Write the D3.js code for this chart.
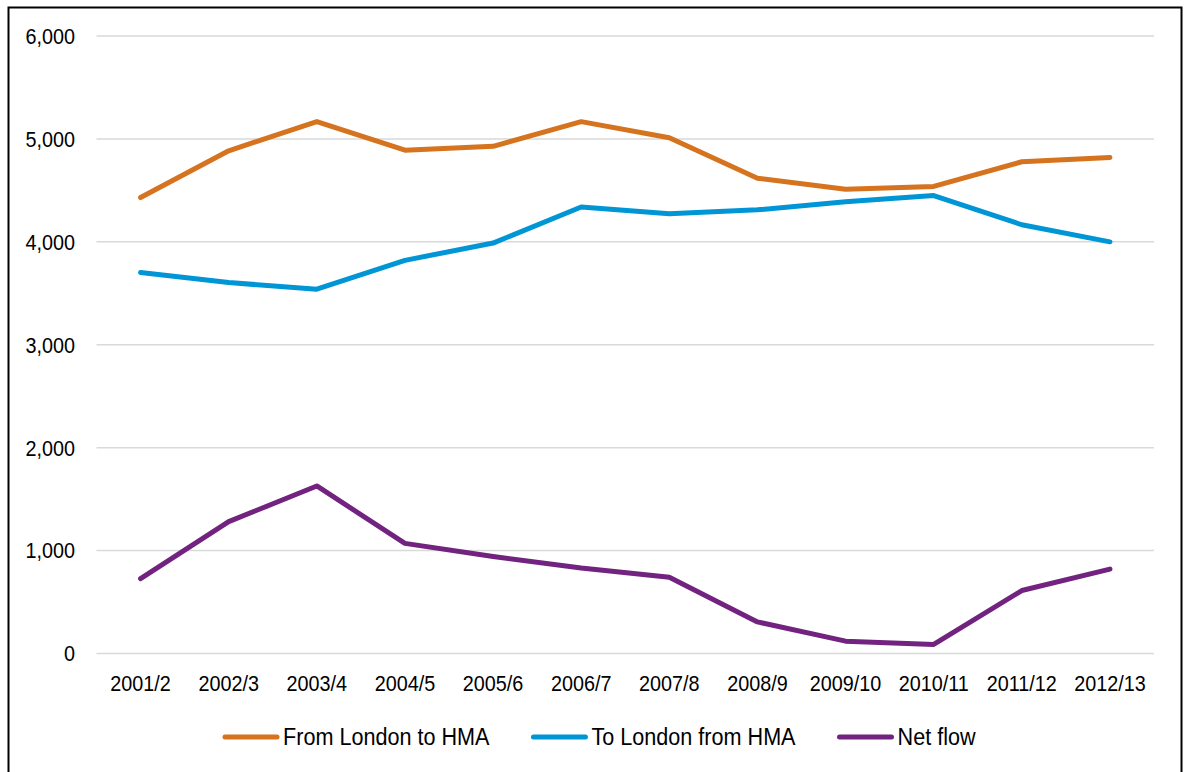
<!DOCTYPE html>
<html>
<head>
<meta charset="utf-8">
<script src="https://cdn.jsdelivr.net/npm/d3@7"></script>
<style>
  html, body { margin: 0; padding: 0; background: #fff; }
  svg { display: block; }
  text { font-family: "Liberation Sans", Arial, sans-serif; fill: #000; }
</style>
</head>
<body>
<svg id="chart" width="1188" height="772"></svg>
<script>
// Migration flows between London and the HMA, by financial year
const years = ["2001/2", "2002/3", "2003/4", "2004/5", "2005/6", "2006/7",
               "2007/8", "2008/9", "2009/10", "2010/11", "2011/12", "2012/13"];
const fromLondon = [4430, 4885, 5168, 4890, 4928, 5168, 5012, 4618, 4510, 4538, 4778, 4820];
const toLondon   = [3702, 3604, 3540, 3820, 3988, 4338, 4272, 4311, 4390, 4450, 4166, 4000];
const netFlow    = [728, 1281, 1628, 1070, 942, 830, 740, 307, 120, 88, 612, 820];
const yTicks = [0, 1000, 2000, 3000, 4000, 5000, 6000];

const seriesNames = ["From London to HMA", "To London from HMA", "Net flow"];
const seriesValues = [fromLondon, toLondon, netFlow];
const seriesColors = ["#d5731f", "#0096d6", "#72237f"];

const svg = d3.select("#chart");
const plot = { left: 96.5, right: 1154, top: 36, bottom: 653.5 };
const condense = 0.9;

// outer frame
svg.append("rect")
  .attr("x", 8.5).attr("y", 7.5)
  .attr("width", 1173).attr("height", 780)
  .attr("fill", "none").attr("stroke", "#000").attr("stroke-width", 2);

const x = d3.scaleBand().domain(years).range([plot.left, plot.right]).padding(0);
const y = d3.scaleLinear().domain([0, 6000]).range([plot.bottom, plot.top]);
const cx = d => x(d) + x.bandwidth() / 2;

// horizontal gridlines
svg.append("g").selectAll("line").data(yTicks).join("line")
  .attr("x1", plot.left).attr("x2", plot.right)
  .attr("y1", d => y(d)).attr("y2", d => y(d))
  .attr("stroke", "#d9d9d9").attr("stroke-width", 1.5);

const fmt = d3.format(",");

// y-axis labels
svg.append("g").selectAll("text").data(yTicks).join("text")
  .attr("transform", d => `translate(75,${y(d)}) scale(${condense},1)`)
  .attr("text-anchor", "end")
  .attr("dominant-baseline", "central")
  .style("font-size", "22px")
  .text(d => fmt(d));

// x-axis labels
svg.append("g").selectAll("text").data(years).join("text")
  .attr("transform", d => `translate(${cx(d)},691) scale(${condense},1)`)
  .attr("text-anchor", "middle")
  .style("font-size", "22px")
  .text(d => d);

// series lines
const line = d3.line().x((d, i) => cx(years[i])).y(d => y(d));
svg.append("g").selectAll("path").data(seriesValues).join("path")
  .attr("d", d => line(d))
  .attr("fill", "none")
  .attr("stroke", (d, i) => seriesColors[i])
  .attr("stroke-width", 5)
  .attr("stroke-linecap", "round")
  .attr("stroke-linejoin", "round");

// legend
const legend = svg.append("g");
let lx = 225;
const ly = 737;
seriesNames.forEach((name, i) => {
  legend.append("line")
    .attr("x1", lx).attr("x2", lx + 52)
    .attr("y1", ly).attr("y2", ly)
    .attr("stroke", seriesColors[i]).attr("stroke-width", 5)
    .attr("stroke-linecap", "round");
  const t = legend.append("text")
    .attr("transform", `translate(${lx + 58},${ly}) scale(${condense},1)`)
    .attr("dominant-baseline", "central")
    .style("font-size", "24px")
    .text(name);
  const w = t.node().getComputedTextLength() * condense;
  lx += 58 + w + 44;
});
</script>
</body>
</html>
